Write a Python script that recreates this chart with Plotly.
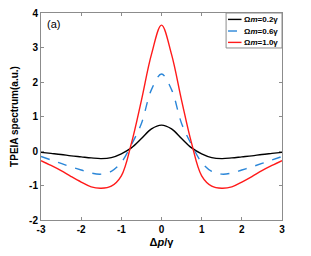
import plotly.graph_objects as go

detuning = [-3.0, -2.75, -2.5, -2.25, -2.0, -1.75, -1.5, -1.25, -1.0, -0.75, -0.5, -0.25, 0.0,
            0.25, 0.5, 0.75, 1.0, 1.25, 1.5, 1.75, 2.0, 2.25, 2.5, 2.75, 3.0]

black_02 = [-0.04, -0.07, -0.10, -0.14, -0.17, -0.20, -0.22, -0.19, -0.08, 0.09, 0.36, 0.64, 0.75,
            0.64, 0.36, 0.09, -0.08, -0.19, -0.22, -0.20, -0.17, -0.14, -0.10, -0.07, -0.04]

blue_06 = [-0.16, -0.26, -0.36, -0.46, -0.55, -0.64, -0.67, -0.59, -0.33, 0.18, 0.80, 1.78, 2.23,
           1.78, 0.80, 0.18, -0.33, -0.59, -0.67, -0.64, -0.55, -0.46, -0.36, -0.26, -0.16]

red_10 = [-0.28, -0.42, -0.57, -0.74, -0.90, -1.04, -1.08, -1.02, -0.72, 0.22, 1.47, 2.80, 3.65,
          2.80, 1.47, 0.22, -0.72, -1.02, -1.08, -1.04, -0.90, -0.74, -0.57, -0.42, -0.28]

series_names = ["<b>Ω<i>m</i>=0.2γ</b>", "<b>Ω<i>m</i>=0.6γ</b>", "<b>Ω<i>m</i>=1.0γ</b>"]
series_colors = ["black", "#2a86d8", "#ff1a1a"]
series_dash = ["solid", "dash", "solid"]

x_ticks = [-3, -2, -1, 0, 1, 2, 3]
y_ticks = [-2, -1, 0, 1, 2, 3, 4]

FONT = "Liberation Sans, Arial"

fig = go.Figure()
for xs, ys, name, col, dash in zip([detuning] * 3, [black_02, blue_06, red_10],
                                  series_names, series_colors, series_dash):
    fig.add_trace(go.Scatter(x=xs, y=ys, mode="lines", name=name, showlegend=False,
                             line=dict(color=col, width=1.4, dash=dash, shape="spline", smoothing=1.0)))

axis_common = dict(showline=True, linecolor="#8c8c8c", linewidth=1, mirror="ticks",
                   ticks="inside", ticklen=3, tickcolor="#8c8c8c", showgrid=False, zeroline=False,
                   automargin=False,
                   tickfont=dict(family=FONT, size=10, color="black"))

fig.update_xaxes(range=[-3, 3], tickvals=x_ticks, ticktext=[f"<b>{v}</b>" for v in x_ticks],
                 title=dict(text="<b>Δ<i>p</i>/γ</b>", font=dict(family=FONT, size=11, color="black"),
                            standoff=4),
                 **axis_common)
fig.update_yaxes(range=[-2, 4], tickvals=y_ticks, ticktext=[f"<b>{v}</b>" for v in y_ticks],
                 title=dict(text="<b>TPEIA spectrum(a.u.)</b>", font=dict(family=FONT, size=10, color="black"),
                            standoff=8),
                 **axis_common)

fig.add_annotation(text="(a)", x=0.015, y=0.985, xref="paper", yref="paper", xanchor="left", yanchor="top",
                   showarrow=False, font=dict(family=FONT, size=11, color="black"))

# compact legend box (top-right, inside the axes)
fig.add_shape(type="rect", xref="paper", yref="paper", x0=0.768, x1=1.0, y0=0.831, y1=1.0,
              line=dict(color="#8c8c8c", width=1), fillcolor="white", layer="above")
legend_rows = [0.969, 0.913, 0.858]
for name, col, dash, yr in zip(series_names, series_colors, series_dash, legend_rows):
    fig.add_shape(type="line", xref="paper", yref="paper", x0=0.776, x1=0.832, y0=yr, y1=yr,
                  line=dict(color=col, width=1.4, dash=dash), layer="above")
    fig.add_annotation(text=name, xref="paper", yref="paper", x=0.836, y=yr, xanchor="left",
                       yanchor="middle", showarrow=False,
                       font=dict(family=FONT, size=8, color="black"))

fig.update_layout(
    width=311, height=256,
    margin=dict(l=41, r=29, t=13, b=36, autoexpand=False),
    paper_bgcolor="white", plot_bgcolor="white",
    showlegend=False,
)

fig.write_html("out.html", config={"displayModeBar": False},
               post_script="document.body.style.margin='0px';")
